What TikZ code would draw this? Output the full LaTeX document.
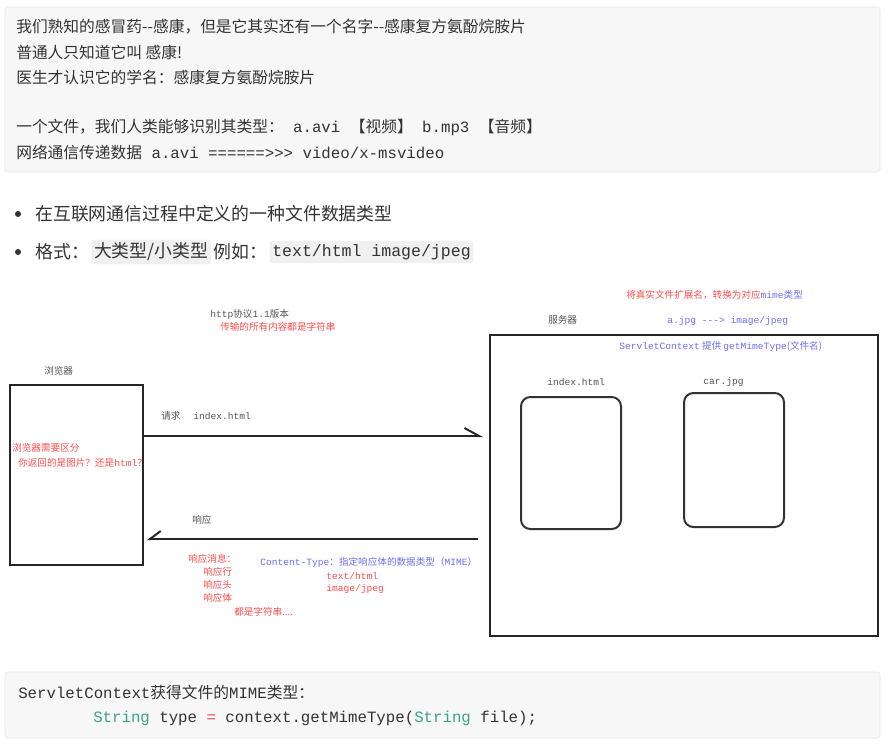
\documentclass[tikz,border=0pt]{standalone}
\usepackage{xcolor}
\usepackage{fontspec}
\setmainfont{Noto Sans CJK SC}
\setmonofont{Liberation Mono}
\usepackage{tikz}
\usetikzlibrary{arrows.meta, positioning}
\definecolor{panelbg}{HTML}{F7F7F7}
\definecolor{panelrule}{HTML}{E6E6E6}
\definecolor{codebg}{HTML}{F0F0F0}
\definecolor{ink}{HTML}{333333}
\definecolor{note}{HTML}{555555}
\definecolor{hlred}{HTML}{FF4D4D}
\definecolor{hlblue}{HTML}{6E6EF5}
\definecolor{codegreen}{HTML}{3BA387}
\definecolor{codered}{HTML}{D9534F}
\newcommand{\tm}[1]{\texttt{#1}}
\newcommand{\topfs}{\fontsize{11.8}{14}\selectfont}
\newcommand{\bulfs}{\fontsize{13.4}{16}\selectfont}
\newcommand{\dgfs}{\fontsize{7.2}{9}\selectfont}

\begin{document}
\begin{tikzpicture}[
  x=0.75pt, y=-0.75pt,
  panel/.style={fill=panelbg, draw=panelrule, rounded corners=2pt},
  topline/.style={anchor=west, inner sep=0pt, text=ink, font=\topfs},
  bultext/.style={anchor=west, inner sep=0pt, text=ink, font=\bulfs},
  codechip/.style={fill=codebg, rounded corners=2pt, inner xsep=2pt, inner ysep=2.5pt, text=ink, font=\bulfs},
  lbl/.style={anchor=west, inner sep=0pt, text=note, font=\dgfs},
  redlbl/.style={anchor=west, inner sep=0pt, text=hlred, font=\dgfs},
  bluelbl/.style={anchor=west, inner sep=0pt, text=hlblue, font=\dgfs},
  frame/.style={draw=black!85, line width=1.5pt, inner sep=0pt},
  filebox/.style={draw=black!80, line width=1.5pt, rounded corners=7pt, inner sep=0pt},
  msg/.style={draw=black!85, line width=1.5pt},
]
\useasboundingbox (0,0) rectangle (889,747);
\fill[white] (0,0) rectangle (889,747);

\draw[panel] (5,7) rectangle (880,172);
\node[topline] (t1) at (16,27) {我们熟知的感冒药-{}-感康，但是它其实还有一个名字-{}-感康复方氨酚烷胺片};
\node[topline] (t2) at (16,52) {普通人只知道它叫 感康!};
\node[topline] (t3) at (16,77) {医生才认识它的学名：感康复方氨酚烷胺片};
\node[topline] (t4) at (16,127) {一个文件，我们人类能够识别其类型：\tm{ a.avi }【视频】\tm{ b.mp3 }【音频】};
\node[topline] (t5) at (16,152) {网络通信传递数据\tm{ a.avi ======>>> video/x-msvideo}};

\fill[ink] (18,214) circle (3);
\node[bultext] (b1) at (35,214) {在互联网通信过程中定义的一种文件数据类型};
\fill[ink] (18,252) circle (3);
\node[bultext] (b2) at (35,252) {格式：};
\node[codechip, right=1.5pt of b2] (chip1) {大类型/小类型};
\node[bultext, right=1.5pt of chip1] (b3) {例如：};
\node[codechip, right=1.5pt of b3, font=\fontsize{12.4}{15}\ttfamily] (chip2) {text/html image/jpeg};

\node[lbl] (bwlbl) at (44,371) {浏览器};
\node[frame, minimum width=99.75pt, minimum height=135pt] (browser) at (76.5,475) {};
\node[redlbl] (bwq1) at (12,448) {浏览器需要区分};
\node[redlbl] (bwq2) at (18,463) {你返回的是图片？还是\tm{html}？};

\node[lbl] (proto) at (210,314) {\tm{http}协议\tm{1.1}版本};
\node[redlbl] (allstr) at (220,327) {传输的所有内容都是字符串};

\node[lbl] (svlbl) at (548,320) {服务器};
\node[redlbl] (ext) at (626,295) {将真实文件扩展名，转换为对应\textcolor{hlblue}{\tm{mime}类型}};
\node[bluelbl] (jpgmap) at (667,321) {\tm{a.jpg ---> image/jpeg}};
\node[frame, minimum width=291pt, minimum height=225.75pt] (server) at (684,485.5) {};
\node[bluelbl] (getmime) at (619,346) {\tm{ServletContext} 提供 \tm{getMimeType}(文件名)};
\node[lbl] (idxlbl) at (547,382) {\tm{index.html}};
\node[filebox, minimum width=75pt, minimum height=99pt] (idxfile) at (571,463) {};
\node[lbl] (carlbl) at (703,382) {\tm{car.jpg}};
\node[filebox, minimum width=75pt, minimum height=100.5pt] (carfile) at (734,460) {};

\node[lbl] (reqlbl) at (161,416) {请求};
\node[lbl] (reqfile) at (193,416) {\tm{index.html}};
\coordinate (reqtip) at (483,436);
\draw[msg, -{Straight Barb[left, length=11pt, width=12pt, line width=1.5pt]}]
  (browser.east |- reqtip) -- (reqtip);

\node[lbl] (reslbl) at (192,520) {响应};
\coordinate (resfrom) at (478,539);
\coordinate (restip) at (147,539);
\draw[msg, -{Straight Barb[right, length=8pt, width=12pt, line width=1.5pt]}]
  (resfrom) -- (restip);

\node[redlbl] (rm0) at (188,559) {响应消息：};
\node[redlbl] (rm1) at (203,572) {响应行};
\node[redlbl] (rm2) at (203,585) {响应头};
\node[redlbl] (rm3) at (203,598) {响应体};
\node[redlbl] (rm4) at (234,612) {都是字符串....};
\node[bluelbl] (ctype) at (260,562) {\tm{Content-Type}：指定响应体的数据类型（\tm{MIME}）};
\node[redlbl] (ct1) at (326,576) {\tm{text/html}};
\node[redlbl] (ct2) at (326,589) {\tm{image/jpeg}};

\draw[panel] (5,672) rectangle (880,738);
\node[topline] (c1) at (18,692) {\tm{ServletContext}获得文件的\tm{MIME}类型：};
\node[topline, font=\fontsize{11.8}{14}\ttfamily] (c2) at (93,718)
  {\textcolor{codegreen}{String} type \textcolor{codered}{=} context.getMimeType(\textcolor{codegreen}{String} file);};
\end{tikzpicture}
\end{document}
